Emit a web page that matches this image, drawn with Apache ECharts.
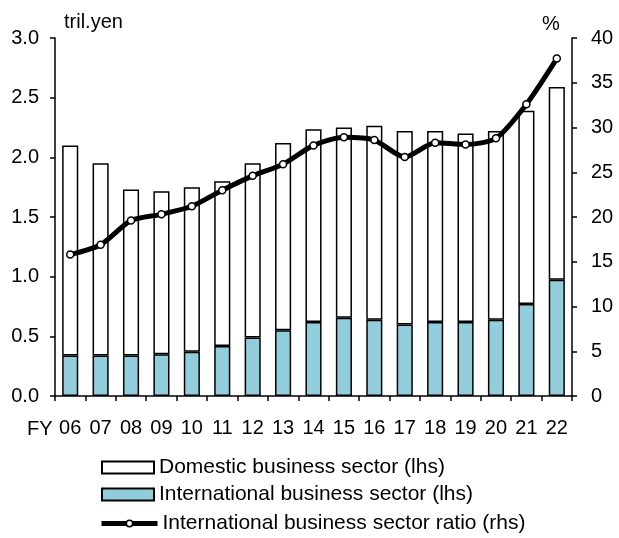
<!DOCTYPE html>
<html><head><meta charset="utf-8">
<script src="https://cdn.jsdelivr.net/npm/echarts@6/dist/echarts.min.js"></script>
<style>html,body{margin:0;padding:0;background:#fff}#c{width:619px;height:538px}</style>
</head><body><div id="c"></div>
<script>
const categories = ['06','07','08','09','10','11','12','13','14','15','16','17','18','19','20','21','22'];
const international = [0.34,0.34,0.34,0.35,0.37,0.42,0.49,0.55,0.62,0.655,0.64,0.60,0.62,0.62,0.64,0.77,0.975];
const domestic = [1.76,1.61,1.39,1.365,1.38,1.38,1.46,1.57,1.615,1.595,1.625,1.62,1.60,1.58,1.58,1.62,1.615];
const ratio = [15.8,16.9,19.6,20.3,21.2,23.0,24.6,25.9,28.0,28.9,28.6,26.7,28.3,28.1,28.8,32.6,37.7];
const leftTicks = {min:0,max:3,interval:0.5};
const rightTicks = {min:0,max:40,interval:5};
const names = ['Domestic business sector (lhs)','International business sector (lhs)','International business sector ratio (rhs)'];

const FONT = 'Liberation Sans, Arial, sans-serif';
const FS = 20;
const chart = echarts.init(document.getElementById('c'), null, {renderer:'canvas'});
const axisLine = {show:true, lineStyle:{color:'#000', width:1.5}};
const legendBase = {orient:'horizontal', left:101, padding:0, itemGap:8, itemWidth:52, itemHeight:12,
  textStyle:{fontFamily:FONT, fontSize:21, color:'#000'}};
chart.setOption({
  animation:false,
  textStyle:{fontFamily:FONT, color:'#000'},
  grid:{left:55, right:47, top:38, bottom:142, containLabel:false},
  legend:[
    Object.assign({}, legendBase, {top:457, data:[{name:names[0], icon:'rect'}]}),
    Object.assign({}, legendBase, {top:484, data:[{name:names[1], icon:'rect'}]}),
    Object.assign({}, legendBase, {top:513, left:99, itemWidth:56, itemHeight:8,
      data:[{name:names[2], lineStyle:{width:5}, itemStyle:{color:'#fff', borderColor:'#000', borderWidth:1.5}}]})
  ],
  xAxis:{
    type:'category', data:categories,
    axisLine:axisLine,
    axisTick:{show:true, alignWithLabel:false, length:5, inside:false, lineStyle:{color:'#000', width:1.5}},
    axisLabel:{fontFamily:FONT, fontSize:FS, color:'#000', margin:22}
  },
  yAxis:[
    {type:'value', min:leftTicks.min, max:leftTicks.max, interval:leftTicks.interval,
     axisLine:axisLine, splitLine:{show:false},
     axisTick:{show:true, length:5, lineStyle:{color:'#000', width:1.5}},
     axisLabel:{fontFamily:FONT, fontSize:FS, color:'#000', margin:16, formatter:v=>v.toFixed(1)}},
    {type:'value', min:rightTicks.min, max:rightTicks.max, interval:rightTicks.interval,
     axisLine:axisLine, splitLine:{show:false},
     axisTick:{show:true, length:5, lineStyle:{color:'#000', width:1.5}},
     axisLabel:{fontFamily:FONT, fontSize:FS, color:'#000', margin:19}}
  ],
  graphic:[
    {type:'text', left:64, top:12, style:{text:'tril.yen', fontFamily:FONT, fontSize:FS, fill:'#000'}},
    {type:'text', left:542, top:14, style:{text:'%', fontFamily:FONT, fontSize:FS, fill:'#000'}},
    {type:'text', left:27, top:419, style:{text:'FY', fontFamily:FONT, fontSize:FS, fill:'#000'}}
  ],
  series:[
    {name:names[1], type:'bar', stack:'a', data:international,
     barWidth:'53%', itemStyle:{color:'#92CDDC', borderColor:'#000', borderWidth:1.5}},
    {name:names[0], type:'bar', stack:'a', data:domestic,
     barWidth:'53%', itemStyle:{color:'#fff', borderColor:'#000', borderWidth:1.5}},
    {name:names[2], type:'line', yAxisIndex:1, data:ratio,
     smooth:0.25, symbol:'circle', symbolSize:7, z:5,
     lineStyle:{color:'#000', width:5},
     itemStyle:{color:'#fff', borderColor:'#000', borderWidth:1.5}}
  ]
});
</script></body></html>
